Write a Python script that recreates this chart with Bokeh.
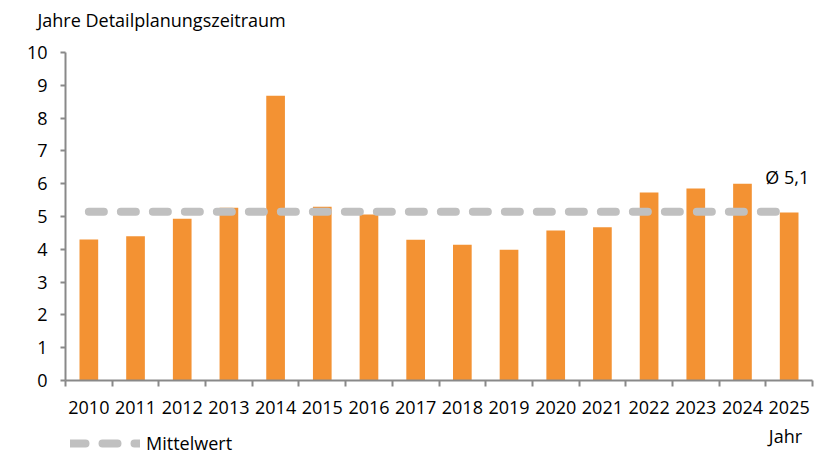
from bokeh.plotting import figure
from bokeh.models import (Range1d, LinearAxis, FixedTicker, Label, Legend, LegendItem)
from bokeh.embed import file_html
from bokeh.resources import INLINE

# ---- data ----
years = [str(y) for y in range(2010, 2026)]
values = [4.30, 4.40, 4.93, 5.27, 8.68, 5.30, 5.06, 4.29, 4.14, 3.99, 4.57, 4.67, 5.73, 5.85, 6.00, 5.12]
mean_label = "Ø 5,1"
y_title = "Jahre Detailplanungszeitraum"
x_title = "Jahr"
legend_label = "Mittelwert"
y_ticks = list(range(0, 11))
mean_value = sum(values) / len(values)

FONT = "Open Sans"
FS = "18px"
ORANGE = "#F39233"
GREY = "#C0C0C0"
AX = "#898989"

W, H = 825, 454
n = len(years)
# plot area in pixels: left 65, right 812, top 52, bottom 380
slot_px = (812 - 65) / n
unit_px = (380 - 52) / 10
x_range = Range1d(-65 / slot_px, (W - 65) / slot_px)
y_range = Range1d(-(H - 380) / unit_px, 10 + 52 / unit_px)

slots = [i + 0.5 for i in range(n)]  # category centres

p = figure(width=W, height=H, x_range=x_range, y_range=y_range,
           output_backend="svg", toolbar_location=None, title=None,
           x_axis_location=None, y_axis_location=None, min_border=0)
p.outline_line_color = None
for g in p.grid:
    g.visible = False

yaxis = LinearAxis(fixed_location=0, bounds=(0, 10), ticker=FixedTicker(ticks=y_ticks),
                   axis_line_color=AX, axis_line_width=2,
                   major_tick_line_color=AX, major_tick_line_width=2, major_tick_in=0, major_tick_out=5,
                   minor_tick_line_color=None, major_label_text_font=FONT,
                   major_label_text_font_size=FS, major_label_text_color="black",
                   major_label_standoff=13)
p.add_layout(yaxis, "left")

# tick marks at category boundaries
xtick = LinearAxis(fixed_location=0, bounds=(0, n), ticker=FixedTicker(ticks=list(range(n + 1))),
                   axis_line_color=AX, axis_line_width=2, major_tick_line_color=AX,
                   major_tick_line_width=2, major_tick_in=0, major_tick_out=6,
                   minor_tick_line_color=None, major_label_text_font_size="1px",
                   major_label_text_alpha=0, major_label_standoff=0)
p.add_layout(xtick, "below")

# category labels at category centres
xlab = LinearAxis(fixed_location=0, ticker=FixedTicker(ticks=slots),
                  major_label_overrides={s: y for s, y in zip(slots, years)},
                  axis_line_color=None, major_tick_line_color=None, major_tick_in=0,
                  major_tick_out=0, minor_tick_line_color=None, major_label_standoff=20,
                  major_label_text_font=FONT, major_label_text_font_size=FS,
                  major_label_text_color="black")
p.add_layout(xlab, "below")

p.vbar(x=slots, top=values, width=0.4, fill_color=ORANGE, line_color=None)
r = p.line(x=[slots[0], slots[-1]], y=[mean_value, mean_value], line_color=GREY, line_width=8,
           line_dash="15 17", line_cap="round")

legend = Legend(items=[LegendItem(label=legend_label, renderers=[r])], location=(70, -1),
                border_line_color=None, background_fill_alpha=0, padding=0, margin=0,
                glyph_width=70, glyph_height=16, label_height=16, label_standoff=6,
                label_text_font=FONT, label_text_font_size=FS, label_text_color="black")
p.add_layout(legend)

common = dict(text_font=FONT, text_font_size=FS, text_color="black", text_baseline="middle")
p.add_layout(Label(x=-0.6, y=11.0, text=y_title, text_align="left", **common))
p.add_layout(Label(x=15.42, y=-1.68, text=x_title, text_align="center", **common))
p.add_layout(Label(x=15.46, y=6.19, text=mean_label, text_align="center", **common))

open("out.html", "w").write(file_html(p, INLINE))
